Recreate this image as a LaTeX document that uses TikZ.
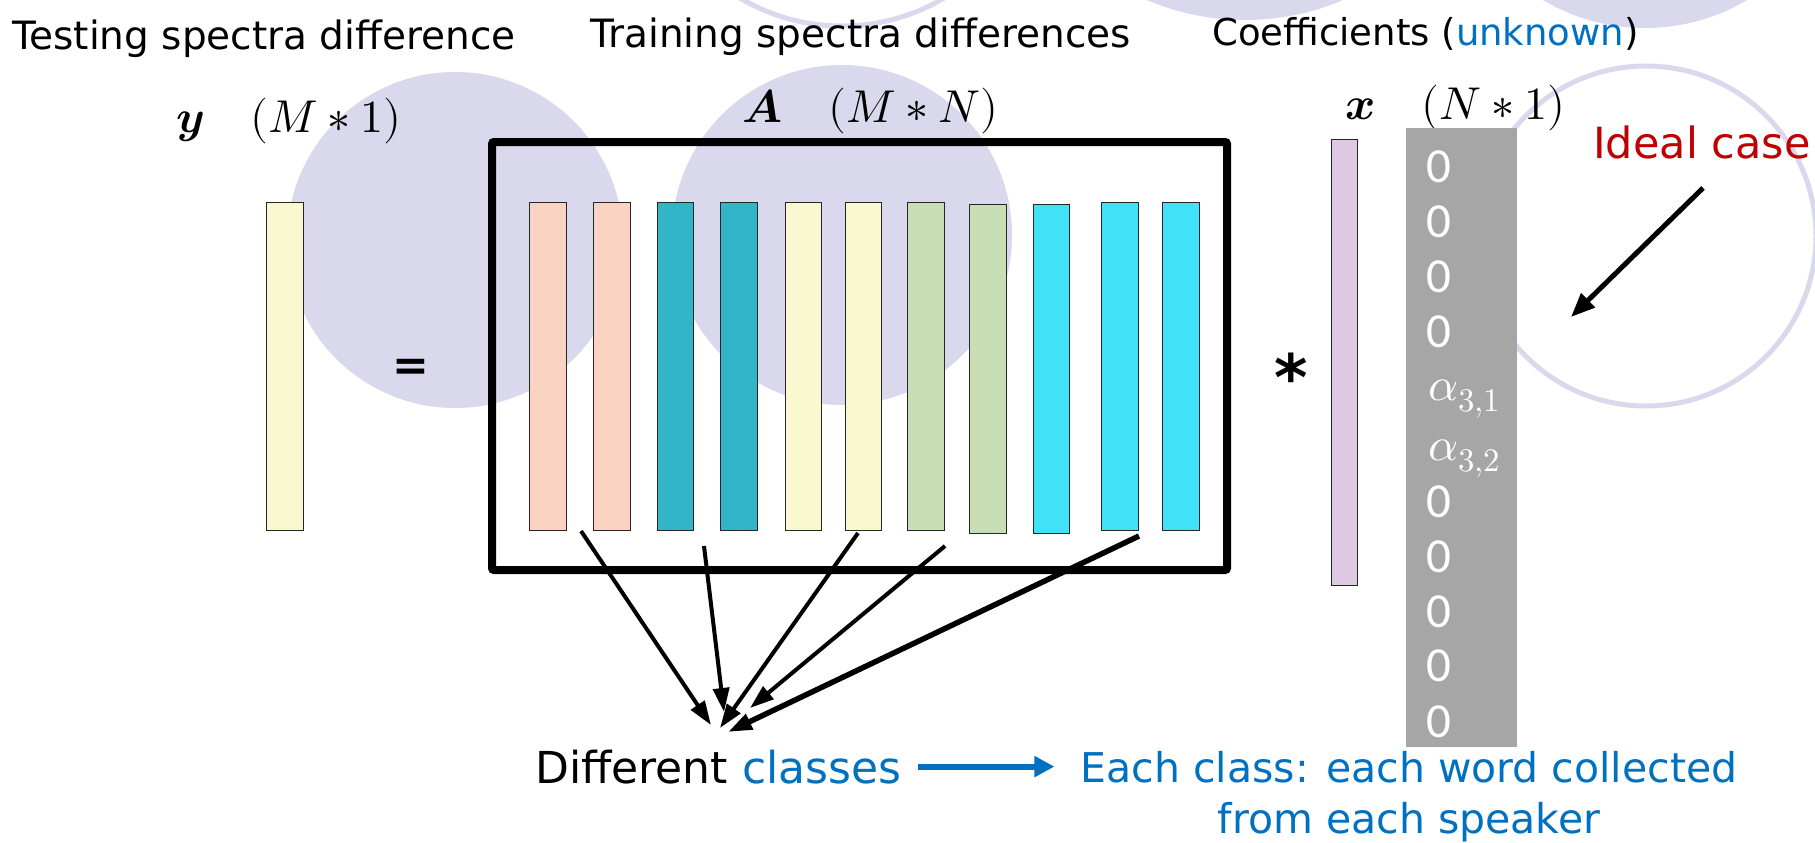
\documentclass[tikz,border=0pt]{standalone}
\usepackage{unicode-math}
\setmainfont{DejaVu Sans}
\newfontfamily\zerofont{Carlito}
\usetikzlibrary{arrows.meta}
\definecolor{lav}{HTML}{DAD8EC}
\definecolor{peach}{HTML}{FAD3C3}
\definecolor{tealc}{HTML}{32B4C9}
\definecolor{paley}{HTML}{FAF8D0}
\definecolor{paleg}{HTML}{C8DFB5}
\definecolor{cyanc}{HTML}{40E2F8}
\definecolor{purp}{HTML}{DDCAE2}
\definecolor{grayc}{HTML}{A6A6A6}
\definecolor{blu}{HTML}{0070C0}
\definecolor{redc}{HTML}{C00000}
\tikzset{
  bar/.style={draw=black!85, line width=1.4pt, inner sep=0pt, anchor=north west},
  lbl/.style={inner sep=0pt, anchor=base west, font=\fontsize{39}{44}\selectfont},
  mlbl/.style={inner sep=0pt, anchor=base west, font=\fontsize{46}{52}\selectfont},
  zero/.style={inner sep=0pt, anchor=base west, text=white, font=\zerofont\fontsize{49}{52}\selectfont},
  alph/.style={inner sep=0pt, anchor=base west, text=white, font=\fontsize{47}{50}\selectfont},
  conn/.style={line width=4pt, -{Triangle[length=24pt,width=16pt]}},
}
\begin{document}
\begin{tikzpicture}[x=1pt,y=-1pt]
\useasboundingbox (0,0) rectangle (1815,843);
% background circles
\begin{scope}
\clip (0,0) rectangle (1815,843);
\fill[lav] (455,240) circle[radius=168pt];
\fill[lav] (842,235) circle[radius=170pt];
\draw[lav, line width=5pt] (842,-174) circle[radius=200pt];
\fill[lav] (1245,-230) circle[radius=250pt];
\fill[lav] (1645,-172) circle[radius=200pt];
\draw[lav, line width=5pt] (1646,236) circle[radius=170pt];
\end{scope}

% top labels
\node[lbl] (ltest) at (12,50) {Testing spectra difference};
\node[lbl] (ltrain) at (590,48) {Training spectra differences};
\node[lbl, font=\fontsize{37}{44}\selectfont] (lcoef) at (1212,46) {Coefficients (\textcolor{blu}{unknown})};

% math labels
\node[mlbl] (my) at (176,132) {$\symbfit{y}\quad(M*1)$};
\node[mlbl] (mA) at (742,122) {$\symbfit{A}\quad(M*N)$};
\node[mlbl] (mx) at (1345,119) {$\symbfit{x}\quad(N*1)$};

% y vector
\node[bar, fill=paley, minimum width=37pt, minimum height=328pt] (ybar) at (266,202) {};
\node[inner sep=0pt, font=\fontsize{44}{44}\selectfont\bfseries] (eq) at (411,370) {=};

% matrix A
\node[draw, line width=8pt, rounded corners=2pt, inner sep=0pt, anchor=north west,
      minimum width=735pt, minimum height=428pt] (box) at (488,138) {};
\node[bar, fill=peach, minimum width=37pt, minimum height=328pt] (b1) at (529,202) {};
\node[bar, fill=peach, minimum width=37pt, minimum height=328pt] (b2) at (593,202) {};
\node[bar, fill=tealc, minimum width=36pt, minimum height=328pt] (b3) at (657,202) {};
\node[bar, fill=tealc, minimum width=37pt, minimum height=328pt] (b4) at (720,202) {};
\node[bar, fill=paley, minimum width=36pt, minimum height=328pt] (b5) at (785,202) {};
\node[bar, fill=paley, minimum width=36pt, minimum height=328pt] (b6) at (845,202) {};
\node[bar, fill=paleg, minimum width=37pt, minimum height=328pt] (b7) at (907,202) {};
\node[bar, fill=paleg, minimum width=37pt, minimum height=329pt] (b8) at (969,204) {};
\node[bar, fill=cyanc, minimum width=36pt, minimum height=329pt] (b9) at (1033,204) {};
\node[bar, fill=cyanc, minimum width=37pt, minimum height=328pt] (b10) at (1101,202) {};
\node[bar, fill=cyanc, minimum width=37pt, minimum height=328pt] (b11) at (1162,202) {};

% asterisk and x vector
\node[inner sep=0pt, anchor=north, font=\fontsize{64}{64}\selectfont\bfseries] (star) at (1291,353) {*};
\node[bar, fill=purp, minimum width=26pt, minimum height=446pt] (xbar) at (1331,139) {};
\node[fill=grayc, inner sep=0pt, anchor=north west, minimum width=111pt, minimum height=619pt] (gcol) at (1406,128) {};

\node[zero] (z1) at (1426,182) {0};
\node[zero] (z2) at (1426,237) {0};
\node[zero] (z3) at (1426,292) {0};
\node[zero] (z4) at (1426,347) {0};
\node[alph] (z5) at (1428,400) {$\alpha_{3,1}$};
\node[alph] (z6) at (1428,460) {$\alpha_{3,2}$};
\node[zero] (z7) at (1426,517) {0};
\node[zero] (z8) at (1426,572) {0};
\node[zero] (z9) at (1426,627) {0};
\node[zero] (z10) at (1426,681) {0};
\node[zero] (z11) at (1426,737) {0};

% ideal case
\node[inner sep=0pt, anchor=base west, text=redc, font=\fontsize{43}{48}\selectfont] (ideal) at (1593,158) {Ideal case};
\coordinate (ia) at (1703,188);
\coordinate (ib) at (1571,317);
\draw[line width=5pt, -{Triangle[length=24pt,width=19pt]}] (ia) -- (ib);

% bottom labels
\node[inner sep=0pt, anchor=base west, font=\fontsize{44}{50}\selectfont] (diff) at (535,783) {Different \textcolor{blu}{classes}};
\node[inner sep=0pt, anchor=north, align=center, text=blu, font=\fontsize{41}{51}\selectfont] (each) at (1409,751) {Each class: each word collected\\from each speaker};
\draw[blu, line width=6pt, -{Triangle[length=20pt,width=20pt]}, shorten <=17pt, shorten >=26pt] (diff.east) -- (diff.east -| each.west);

% class arrows
\coordinate (s1) at (581,531);
\coordinate (s2) at (704,546);
\coordinate (s3) at (858,533);
\coordinate (s4) at (945,546);
\coordinate (s5) at (1139,536);
\coordinate (t1) at (711,725);
\coordinate (t2) at (724,712);
\coordinate (t3) at (720,728);
\coordinate (t4) at (750,708);
\coordinate (t5) at (728,732);
\draw[conn] (s1) -- (t1);
\draw[conn] (s2) -- (t2);
\draw[conn] (s3) -- (t3);
\draw[conn] (s4) -- (t4);
\draw[conn, line width=5.5pt] (s5) -- (t5);
\end{tikzpicture}
\end{document}
